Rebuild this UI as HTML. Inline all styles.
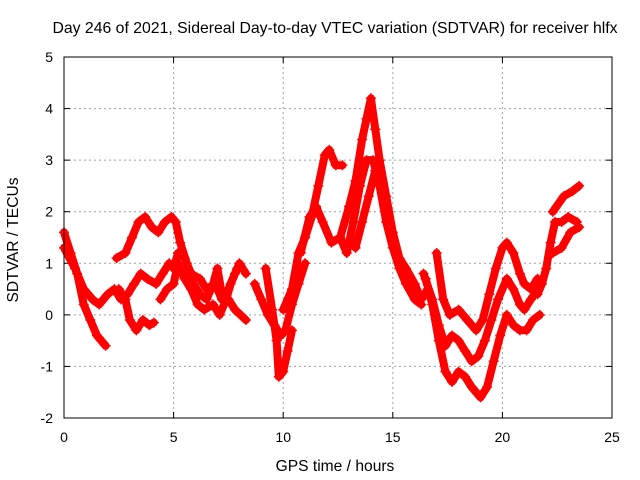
<!DOCTYPE html>
<html><head><meta charset="utf-8"><style>
body{margin:0;background:#fff}
svg{display:block;font-family:"Liberation Sans",sans-serif}
</style></head><body>
<svg width="640" height="480" viewBox="0 0 640 480" id="chart">
<rect x="0" y="0" width="640" height="480" fill="#fff"/>
<text x="335" y="33" text-anchor="middle" font-size="15.8">Day 246 of 2021, Sidereal Day-to-day VTEC variation (SDTVAR) for receiver hlfx</text>
<text x="335" y="471" text-anchor="middle" font-size="15.6">GPS time / hours</text>
<text transform="translate(18,240) rotate(-90)" text-anchor="middle" font-size="15.6">SDTVAR / TECUs</text>
<g id="grid"></g>
<g id="series"></g>
<rect x="64" y="57" width="548" height="361" fill="none" stroke="#000" stroke-width="1"/>
</svg>
<script>
const xTicks=[0,5,10,15,20,25];
const yTicks=[-2,-1,0,1,2,3,4,5];
const track1=[[0,1.6],[0.3,1.2],[0.6,0.8],[0.9,0.2],[1.2,-0.1],[1.5,-0.4],[1.9,-0.6]];
const track2=[[0,1.3],[0.5,0.9],[0.9,0.5],[1.3,0.3],[1.6,0.2],[2.0,0.4],[2.3,0.5],[2.6,0.3],[2.9,0.4],[3.2,0.6],[3.5,0.8],[3.8,0.7],[4.2,0.6],[4.5,0.8],[4.8,1.0],[5.0,0.9],[5.2,1.2],[5.5,1.1],[5.8,0.8],[6.2,0.7],[6.5,0.5],[6.9,0.6],[7.2,0.3],[7.5,0.5],[7.8,0.8],[8.0,1.0],[8.3,0.8]];
const track3=[[2.4,1.1],[2.8,1.2],[3.1,1.5],[3.4,1.8],[3.7,1.9],[4.0,1.7],[4.3,1.6],[4.6,1.8],[4.9,1.9],[5.1,1.8],[5.3,1.4],[5.6,1.0],[5.9,0.6],[6.2,0.4],[6.5,0.3],[6.8,0.6],[7.0,0.9],[7.2,0.4],[7.5,0.3],[7.8,0.1],[8.3,-0.1]];
const track4=[[2.5,0.5],[2.8,0.3],[3.0,-0.1],[3.3,-0.3],[3.6,-0.1],[3.9,-0.2],[4.1,-0.15]];
const track5=[[4.4,0.3],[4.7,0.5],[5.0,0.6],[5.2,1.0],[5.5,0.7],[5.8,0.5],[6.1,0.2],[6.4,0.1],[6.8,0.2],[7.1,0.0],[7.4,0.3],[7.6,0.6],[7.9,0.9]];
const track6=[[8.7,0.6],[9.0,0.3],[9.3,0.0],[9.6,-0.2],[9.9,-0.4],[10.1,-0.3],[10.4,0.2],[10.7,0.6],[11.0,1.0]];
const track7=[[9.2,0.9],[9.5,0.1],[9.7,-0.5],[9.8,-1.2],[10.0,-1.1],[10.2,-0.7],[10.4,-0.3]];
const track8=[[10.0,0.1],[10.4,0.5],[10.7,1.2],[11.0,1.5],[11.3,1.9],[11.6,2.5],[11.9,3.1],[12.1,3.2],[12.4,2.9],[12.7,2.9]];
const track9=[[10.8,1.2],[11.2,1.9],[11.5,2.1],[11.8,1.8],[12.2,1.4],[12.6,1.5],[13.0,2.1],[13.3,2.6],[13.6,3.4],[13.8,3.8],[14.0,4.2],[14.2,3.6],[14.4,3.0],[14.7,2.3],[15.0,1.6],[15.3,1.1],[15.6,0.9],[16.0,0.6],[16.3,0.3],[16.6,0.5]];
const track10=[[12.6,1.5],[12.9,1.2],[13.2,1.8],[13.5,2.5],[13.8,3.0],[14.1,3.0],[14.4,2.5],[14.7,1.8],[15.0,1.3],[15.3,0.9],[15.6,0.6],[16.0,0.3],[16.3,0.2]];
const track11=[[13.3,1.3],[13.6,1.8],[13.9,2.3],[14.2,2.8],[14.5,2.6],[14.8,2.0]];
const track12=[[17.0,1.2],[17.3,0.3],[17.6,0.0],[18.0,0.1],[18.4,-0.1],[18.8,-0.3],[19.1,-0.1],[19.4,0.4],[19.7,0.9],[20.0,1.3],[20.2,1.4],[20.5,1.2],[20.8,0.8],[21.0,0.6],[21.3,0.5],[21.6,0.7]];
const track13=[[16.4,0.8],[16.8,0.3],[17.1,-0.2],[17.4,-0.6],[17.7,-0.4],[18.0,-0.5],[18.3,-0.7],[18.6,-0.9],[18.9,-0.8],[19.2,-0.5],[19.5,-0.1],[19.8,0.3],[20.2,0.7],[20.5,0.5],[20.8,0.2],[21.0,0.1],[21.3,0.3],[21.6,0.5]];
const track14=[[16.5,0.7],[16.8,0.2],[17.1,-0.5],[17.4,-1.1],[17.7,-1.3],[18.0,-1.1],[18.3,-1.2],[18.6,-1.4],[19.0,-1.6],[19.3,-1.4],[19.6,-0.9],[19.9,-0.4],[20.2,0.0],[20.5,-0.2],[20.8,-0.3],[21.1,-0.3],[21.4,-0.1],[21.7,0.0]];
const track15=[[21.6,0.4],[21.8,0.6],[22.0,0.9],[22.2,1.4],[22.4,1.8],[22.7,1.8],[23.0,1.9],[23.4,1.8]];
const track16=[[22.3,2.0],[22.8,2.3],[23.2,2.4],[23.5,2.5]];
const track17=[[22.3,1.2],[22.7,1.3],[23.1,1.6],[23.5,1.7]];
const tracks=[track1,track2,track3,track4,track5,track6,track7,track8,track9,track10,track11,track12,track13,track14,track15,track16,track17];

const NS="http://www.w3.org/2000/svg";
const X0=64,X1=612,Y0=418,Y1=57,xmin=0,xmax=25,ymin=-2,ymax=5;
function sx(t){return X0+(t-xmin)/(xmax-xmin)*(X1-X0);}
function sy(v){return Y0-(v-ymin)/(ymax-ymin)*(Y0-Y1);}
function mk(tag,attrs,parent){const e=document.createElementNS(NS,tag);for(const k in attrs)e.setAttribute(k,attrs[k]);parent.appendChild(e);return e;}
const svg=document.getElementById('chart');
const grid=document.getElementById('grid');
xTicks.forEach(t=>{
  const x=sx(t);
  if(t>xmin&&t<xmax){const g=mk('line',{x1:x,x2:x,y1:Y1,y2:Y0,stroke:'#a0a0a0','stroke-dasharray':'2,3'},grid);
  
  }
  mk('line',{x1:x,x2:x,y1:Y0,y2:Y0-6,stroke:'#000'},grid);
  mk('line',{x1:x,x2:x,y1:Y1,y2:Y1+6,stroke:'#000'},grid);
  const lb=mk('text',{x:x,y:Y0+24,'text-anchor':'middle','font-size':'14'},svg);
  lb.textContent=t;
  
  
});
yTicks.forEach(v=>{
  const y=sy(v);
  if(v>ymin&&v<ymax){const g=mk('line',{x1:X0,x2:X1,y1:y,y2:y,stroke:'#a0a0a0','stroke-dasharray':'2,3'},grid);
  
  }
  mk('line',{x1:X0,x2:X0+6,y1:y,y2:y,stroke:'#000'},grid);
  mk('line',{x1:X1,x2:X1-6,y1:y,y2:y,stroke:'#000'},grid);
  const lb=mk('text',{x:X0-11,y:y+5,'text-anchor':'end','font-size':'14'},svg);
  lb.textContent=v;
  
  
});
const sg=document.getElementById('series');
tracks.forEach(tr=>{
  const pts=tr.map(p=>sx(p[0]).toFixed(1)+','+sy(p[1]).toFixed(1)).join(' ');
  const pl=mk('polyline',{points:pts,fill:'none',stroke:'#ff0000','stroke-width':'8','stroke-linejoin':'round','stroke-linecap':'round'},sg);
  
  
  tr.forEach(p=>{
    const x=sx(p[0]),y=sy(p[1]);
    const m=mk('path',{d:`M${x-5},${y}H${x+5}M${x},${y-5}V${y+5}`,stroke:'#ff0000','stroke-width':'1.5'},sg);
    
    
  });
});
</script>
</body></html>
